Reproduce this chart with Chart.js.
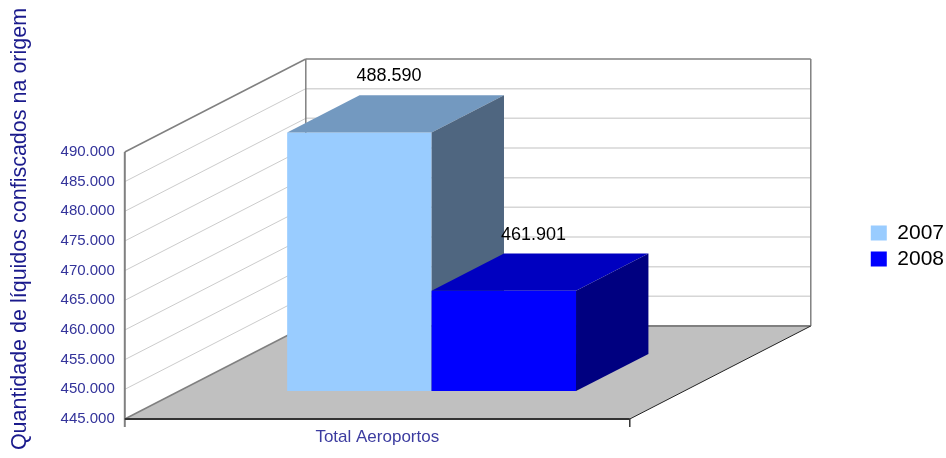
<!DOCTYPE html>
<html lang="pt">
<head>
<meta charset="UTF-8">
<title>Líquidos confiscados na origem</title>
<script src="https://cdn.jsdelivr.net/npm/chart.js"></script>
<style>
  body { margin: 0; background: #fff; }
  #wrap { width: 946px; height: 458px; }
</style>
</head>
<body>
<div id="wrap"><canvas id="chartCanvas"></canvas></div>
<script>
  const categories = ['Total Aeroportos'];
  const seriesNames = ['2007', '2008'];
  const values2007 = [488590];
  const values2008 = [461901];
  const yMin = 445000;
  const yMax = 490000;
  const yStep = 5000;

  const FONT = "'Liberation Sans', Arial, sans-serif";
  const frontColors = ['#99CCFF', '#0000FF'];
  const topColors = ['#7399C0', '#0000C0'];
  const sideColors = ['#4F6680', '#000080'];

  // depth of the 3d box, and where the bars sit inside it
  const DEPTH = { dx: 181, dy: -93 };
  const BAR_FRONT = 0.30;
  const BAR_BACK = 0.70;

  function fmt(v) {
    return String(Math.round(v)).replace(/\B(?=(\d{3})+(?!\d))/g, '.');
  }

  function line(ctx, x1, y1, x2, y2, color, w) {
    ctx.beginPath();
    ctx.moveTo(x1, y1);
    ctx.lineTo(x2, y2);
    ctx.strokeStyle = color;
    ctx.lineWidth = w;
    ctx.stroke();
  }

  function poly(ctx, pts, fill) {
    ctx.beginPath();
    ctx.moveTo(pts[0][0], pts[0][1]);
    for (let i = 1; i < pts.length; i++) ctx.lineTo(pts[i][0], pts[i][1]);
    ctx.closePath();
    ctx.fillStyle = fill;
    ctx.fill();
  }

  const box3d = {
    id: 'box3d',
    beforeDatasetDraw() {
      return false; // bars are drawn as boxes below
    },
    beforeDatasetsDraw(chart) {
      const ctx = chart.ctx;
      const a = chart.chartArea;
      const y = chart.scales.y;
      const dx = DEPTH.dx, dy = DEPTH.dy;
      const L = a.left, R = a.right, T = a.top, B = a.bottom;
      ctx.save();

      // back wall
      ctx.fillStyle = '#fff';
      ctx.fillRect(L + dx, T + dy, R - L, B - T);
      // left wall
      poly(ctx, [[L, T], [L + dx, T + dy], [L + dx, B + dy], [L, B]], '#fff');

      y.ticks.forEach(t => {
        if (t.value <= yMin || t.value >= yMax) return;
        const py = y.getPixelForValue(t.value);
        line(ctx, L + dx, py + dy, R + dx, py + dy, '#D6D6D6', 1.5);
        line(ctx, L, py, L + dx, py + dy, '#CCCCCC', 1);
      });

      // wall borders
      line(ctx, L + dx, T + dy, R + dx, T + dy, '#808080', 1.5);
      line(ctx, R + dx, T + dy, R + dx, B + dy, '#808080', 1.5);
      line(ctx, L + dx, T + dy, L + dx, B + dy, '#808080', 1.5);
      line(ctx, L, T, L + dx, T + dy, '#808080', 1.5);

      // floor
      poly(ctx, [[L, B], [L + dx, B + dy], [R + dx, B + dy], [R, B]], '#C0C0C0');
      line(ctx, L, B, L + dx, B + dy, '#808080', 1.5);
      line(ctx, L + dx, B + dy, R + dx, B + dy, '#808080', 2);
      line(ctx, R, B, R + dx, B + dy, '#222', 1);

      // front axes
      line(ctx, L, T, L, B + 8, '#808080', 2);
      line(ctx, L, B, R, B, '#333', 2);
      line(ctx, R, B, R, B + 8, '#333', 1.5);
      ctx.restore();
    },
    afterDatasetsDraw(chart) {
      const ctx = chart.ctx;
      const dx = DEPTH.dx, dy = DEPTH.dy;
      const ox1 = dx * BAR_FRONT, oy1 = dy * BAR_FRONT;
      const ox2 = dx * BAR_BACK, oy2 = dy * BAR_BACK;
      ctx.save();
      chart.data.datasets.forEach((ds, i) => {
        const meta = chart.getDatasetMeta(i);
        meta.data.forEach((bar, j) => {
          const p = bar.getProps(['x', 'y', 'base', 'width'], true);
          const l = p.x - p.width / 2, r = p.x + p.width / 2;
          const t = p.y, b = p.base;
          // front face
          poly(ctx, [[l + ox1, t + oy1], [r + ox1, t + oy1], [r + ox1, b + oy1], [l + ox1, b + oy1]], frontColors[i]);
          // top face
          poly(ctx, [[l + ox1, t + oy1], [r + ox1, t + oy1], [r + ox2, t + oy2], [l + ox2, t + oy2]], topColors[i]);
          // side face
          poly(ctx, [[r + ox1, t + oy1], [r + ox2, t + oy2], [r + ox2, b + oy2], [r + ox1, b + oy1]], sideColors[i]);

          ctx.fillStyle = '#000';
          ctx.font = '18px ' + FONT;
          ctx.textAlign = 'center';
          ctx.textBaseline = 'middle';
          ctx.fillText(fmt(ds.data[j]), p.x + 84, t + oy2 - 19);
        });
      });
      ctx.restore();
    }
  };

  const chart = new Chart(document.getElementById('chartCanvas'), {
    type: 'bar',
    data: {
      labels: categories,
      datasets: [
        {
          label: seriesNames[0],
          data: values2007,
          base: yMin,
          backgroundColor: frontColors[0],
          borderWidth: 0,
          categoryPercentage: 0.572,
          barPercentage: 1
        },
        {
          label: seriesNames[1],
          data: values2008,
          base: yMin,
          backgroundColor: frontColors[1],
          borderWidth: 0,
          categoryPercentage: 0.572,
          barPercentage: 1
        }
      ]
    },
    options: {
      responsive: true,
      maintainAspectRatio: false,
      animation: false,
      layout: { padding: { top: 0, bottom: 0, left: 0, right: -8 } },
      plugins: {
        tooltip: { enabled: false },
        title: {
          display: true,
          position: 'left',
          text: 'Quantidade de líquidos confiscados na origem',
          color: '#1A1A8C',
          font: { size: 21.5, weight: 'normal', family: FONT },
          padding: 7
        },
        legend: {
          position: 'right',
          title: { display: true, text: '', font: { size: 1 }, padding: { top: 33, bottom: 0 } },
          labels: {
            boxWidth: 16,
            boxHeight: 15,
            padding: 5,
            color: '#000',
            font: { size: 21, family: FONT }
          }
        }
      },
      scales: {
        x: {
          grid: { display: false, drawTicks: false },
          border: { display: false },
          ticks: { color: '#3C3CA0', padding: 8, font: { size: 17, family: FONT } },
          afterFit: s => { s.height = 39; }
        },
        xTop: {
          axis: 'x',
          type: 'linear',
          position: 'top',
          grid: { display: false, drawTicks: false },
          border: { display: false },
          ticks: { display: false },
          afterFit: s => { s.height = 152; }
        },
        y: {
          min: yMin,
          max: yMax,
          grid: { display: false, drawTicks: false },
          border: { display: false },
          ticks: {
            stepSize: yStep,
            padding: 10,
            color: '#33339A',
            font: { size: 15, family: FONT },
            callback: v => fmt(v)
          },
          afterFit: s => { s.width = 85; }
        },
        yRight: {
          axis: 'y',
          type: 'linear',
          position: 'right',
          grid: { display: false, drawTicks: false },
          border: { display: false },
          ticks: { display: false },
          afterFit: s => { s.width = 236; }
        }
      }
    },
    plugins: [box3d]
  });
</script>
</body>
</html>
